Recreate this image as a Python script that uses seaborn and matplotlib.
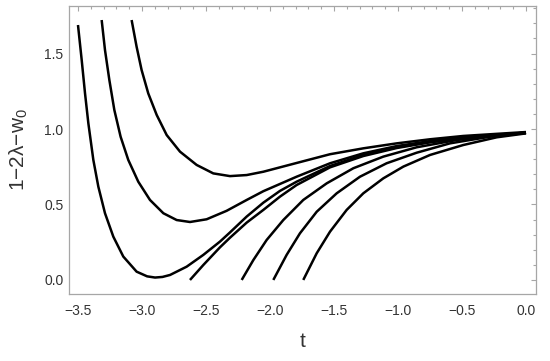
import numpy as np
import pandas as pd
import seaborn as sns
import matplotlib.pyplot as plt
from matplotlib.ticker import MultipleLocator

# curves (t, 1-2lambda-w0)
t_a = [-3.500, -3.471, -3.445, -3.419, -3.380, -3.341, -3.289, -3.224, -3.146, -3.042,
       -2.960, -2.898, -2.840, -2.781, -2.651, -2.521, -2.391, -2.3125, -2.182, -2.052,
       -1.922, -1.792, -1.531, -1.271, -1.010, -0.750, -0.490, -0.229, 0.0]
y_a = [1.689, 1.457, 1.236, 1.038, 0.795, 0.618, 0.442, 0.287, 0.155, 0.055,
       0.024, 0.016, 0.020, 0.033, 0.088, 0.166, 0.254, 0.315, 0.420, 0.512,
       0.590, 0.651, 0.755, 0.828, 0.879, 0.914, 0.940, 0.960, 0.976]

t_b = [-3.315, -3.289, -3.255, -3.216, -3.167, -3.107, -3.029, -2.9375, -2.833, -2.729,
       -2.625, -2.495, -2.339, -2.182, -2.052, -1.792, -1.531, -1.271, -1.010, -0.750,
       -0.490, -0.229, 0.0]
y_b = [1.722, 1.523, 1.325, 1.126, 0.949, 0.795, 0.651, 0.530, 0.442, 0.397,
       0.384, 0.402, 0.458, 0.530, 0.588, 0.684, 0.773, 0.839, 0.887, 0.920,
       0.945, 0.962, 0.976]

t_c = [-3.081, -3.042, -3.003, -2.951, -2.885, -2.807, -2.703, -2.573, -2.443, -2.3125,
       -2.182, -2.052, -1.792, -1.531, -1.271, -1.010, -0.750, -0.490, -0.229, 0.0]
y_c = [1.722, 1.545, 1.391, 1.236, 1.093, 0.960, 0.850, 0.762, 0.706, 0.688,
       0.695, 0.717, 0.775, 0.833, 0.872, 0.905, 0.932, 0.954, 0.968, 0.980]

t_d = [-2.625, -2.521, -2.391, -2.3125, -2.182, -2.052, -1.922, -1.792, -1.531, -1.271,
       -1.010, -0.750, -0.490, -0.229, 0.0]
y_d = [0.0, 0.099, 0.216, 0.280, 0.380, 0.464, 0.552, 0.629, 0.746, 0.821,
       0.874, 0.912, 0.938, 0.958, 0.974]

t_e = [-2.221, -2.130, -2.026, -1.896, -1.740, -1.557, -1.349, -1.115, -0.854, -0.542,
       -0.229, 0.0]
y_e = [0.0, 0.132, 0.265, 0.397, 0.530, 0.640, 0.740, 0.817, 0.879, 0.927,
       0.958, 0.976]

t_f = [-1.974, -1.870, -1.766, -1.635, -1.479, -1.297, -1.089, -0.854, -0.594, -0.281,
       0.0]
y_f = [0.0, 0.166, 0.309, 0.452, 0.574, 0.684, 0.773, 0.843, 0.905, 0.949,
       0.974]

t_g = [-1.740, -1.635, -1.531, -1.401, -1.271, -1.115, -0.958, -0.750, -0.490, -0.229,
       0.0]
y_g = [0.0, 0.177, 0.320, 0.464, 0.574, 0.673, 0.751, 0.828, 0.894, 0.945,
       0.971]

curves = {'a': (t_a, y_a), 'b': (t_b, y_b), 'c': (t_c, y_c), 'd': (t_d, y_d),
          'e': (t_e, y_e), 'f': (t_f, y_f), 'g': (t_g, y_g)}

frames = []
for name, (tt, yy) in curves.items():
    frames.append(pd.DataFrame({'t': tt, 'y': yy, 'curve': name}))
df = pd.concat(frames, ignore_index=True)

sns.set_style('white')
plt.rcParams['font.family'] = ['Liberation Sans', 'DejaVu Sans']
plt.rcParams['mathtext.fontset'] = 'custom'
plt.rcParams['mathtext.rm'] = 'Liberation Sans'
plt.rcParams['mathtext.it'] = 'Liberation Sans:italic'

fig = plt.figure(figsize=(5.5, 3.61), dpi=100)
ax = fig.add_axes([0.1255, 0.1856, 0.849, 0.7978])

sns.lineplot(data=df, x='t', y='y', units='curve', estimator=None, sort=False,
             color='black', linewidth=1.8, ax=ax)
for ln in ax.lines:
    ln.set_solid_joinstyle('round')
    ln.set_solid_capstyle('butt')

ax.set_xlim(-3.570, 0.078)
ax.set_ylim(-0.093, 1.815)

frame_col = '#a6a6a6'
for s in ax.spines.values():
    s.set_color(frame_col)
    s.set_linewidth(0.9)

ax.xaxis.set_major_locator(MultipleLocator(0.5))
ax.xaxis.set_minor_locator(MultipleLocator(0.1))
ax.yaxis.set_major_locator(MultipleLocator(0.5))
ax.yaxis.set_minor_locator(MultipleLocator(0.1))
ax.tick_params(which='both', direction='in', top=True, right=True, color=frame_col,
               labelcolor='#333333', labelsize=10, width=0.8)
ax.tick_params(which='major', length=3.8)
ax.tick_params(which='minor', length=2)
ax.tick_params(axis='x', pad=7)
ax.tick_params(axis='y', pad=4)

ax.set_xlabel('t', fontsize=15, color='#333333', labelpad=10)
ax.set_ylabel('1\u22122\u03bb\u2212w$_0$', fontsize=15, color='#333333', labelpad=10)

fig.savefig('out.png', dpi=100)
